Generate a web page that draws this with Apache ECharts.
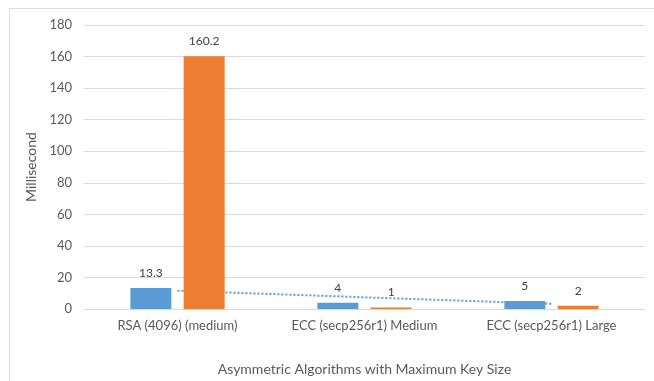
<!DOCTYPE html>
<html><head><meta charset="utf-8">
<script src="https://cdn.jsdelivr.net/npm/echarts@6/dist/echarts.min.js"></script>
<style>html,body{margin:0;padding:0;background:#fff}#c{width:654px;height:381px}</style>
</head><body><div id="c"></div>
<script>
const categories = ['RSA (4096) (medium)', 'ECC (secp256r1) Medium', 'ECC (secp256r1) Large'];
const seriesBlue = [13.3, 4, 5];
const seriesOrange = [160.2, 1, 2];
const trendBlue = [11.6, 7.4, 3.3];
const yTicks = [0, 20, 40, 60, 80, 100, 120, 140, 160, 180];

const FONT = 'Lato';
const chart = echarts.init(document.getElementById('c'));
chart.setOption({
  animation: false,
  textStyle: {fontFamily: FONT},
  graphic: [{type: 'rect', shape: {x: 9.5, y: 8.5, width: 800, height: 500}, style: {fill: 'none', stroke: '#d9d9d9', lineWidth: 1}, silent: true}],
  grid: {left: 84, right: 9, top: 25, bottom: 72},
  xAxis: {
    type: 'category', data: categories,
    axisTick: {show: false},
    axisLine: {lineStyle: {color: '#d9d9d9'}},
    axisLabel: {color: '#595959', fontSize: 13, fontFamily: FONT, margin: 10, interval: 0},
    name: 'Asymmetric Algorithms with Maximum Key Size', nameLocation: 'middle', nameGap: 53,
    nameTextStyle: {color: '#595959', fontSize: 14, fontFamily: FONT}
  },
  yAxis: {
    type: 'value', min: yTicks[0], max: yTicks[yTicks.length - 1], interval: 20,
    axisLine: {show: false}, axisTick: {show: false},
    splitLine: {lineStyle: {color: '#d9d9d9'}},
    axisLabel: {color: '#595959', fontSize: 13, fontFamily: FONT, margin: 12},
    name: 'Millisecond', nameLocation: 'middle', nameGap: 46,
    nameTextStyle: {color: '#595959', fontSize: 14, fontFamily: FONT}
  },
  series: [
    {type: 'bar', data: seriesBlue, barWidth: 41, barGap: '30%', z: 3,
     itemStyle: {color: '#5B9BD5'},
     label: {show: true, position: 'top', distance: 9, color: '#404040', fontSize: 12, fontFamily: FONT}},
    {type: 'bar', data: seriesOrange, barWidth: 41, z: 3,
     itemStyle: {color: '#ED7D31'},
     label: {show: true, position: 'top', distance: 9, color: '#404040', fontSize: 12, fontFamily: FONT}},
    {type: 'line', data: trendBlue, symbol: 'none', z: 1,
     lineStyle: {color: '#5B9BD5', width: 2, type: [2, 2]}}
  ]
});
</script></body></html>
